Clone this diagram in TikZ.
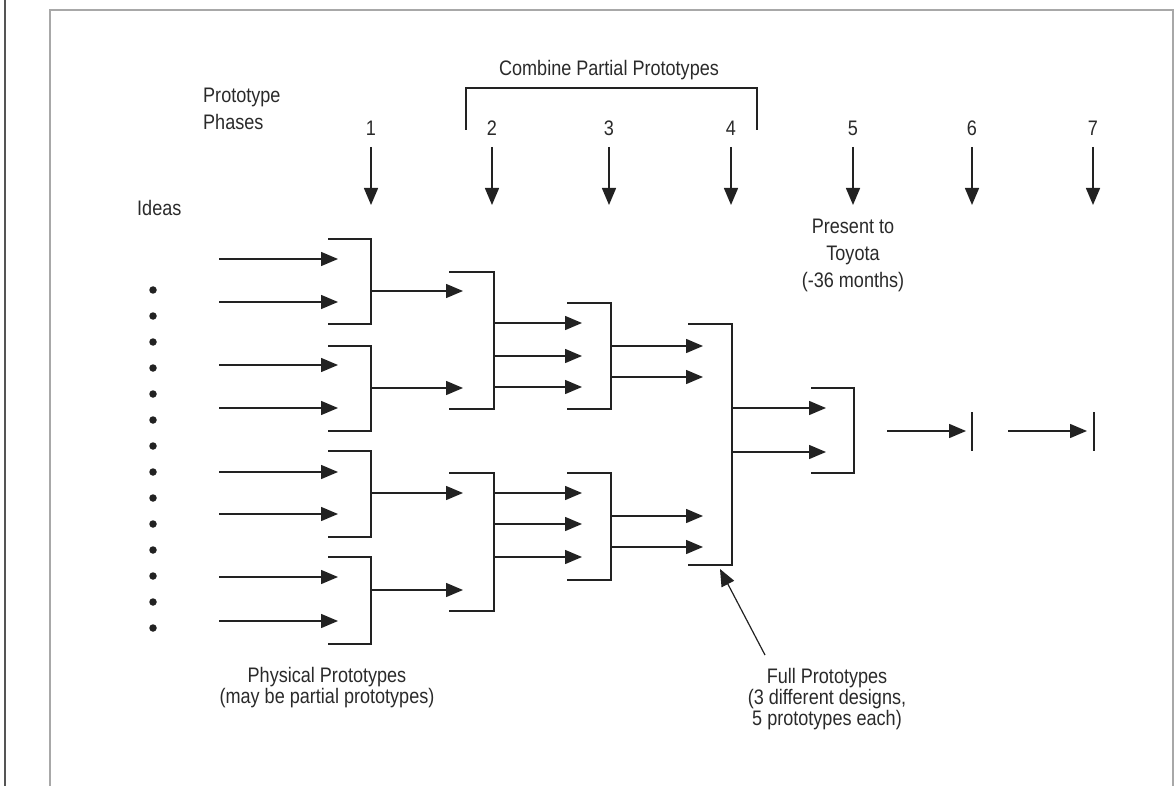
\documentclass[tikz,border=0pt]{standalone}
\usepackage{fontspec}
\setmainfont{Liberation Sans}[FakeStretch=0.86]
\usetikzlibrary{arrows.meta}
\definecolor{lineC}{HTML}{222222}
\definecolor{txtC}{HTML}{2A2A2A}
\definecolor{frameDark}{HTML}{555555}
\definecolor{frameGray}{HTML}{A8A8A8}
\tikzset{
  wire/.style={draw=lineC, line width=1.5pt},
  arr/.style={wire, -{Triangle[length=17pt,width=14pt]}},
  brk/.style={wire, line cap=butt, line join=miter},
  lbl/.style={text=txtC, font=\fontsize{21}{27}\selectfont, inner sep=0pt, align=center},
  lowlbl/.style={lbl, font=\fontsize{21}{21}\selectfont},
  dot/.style={circle, fill=lineC, minimum size=7.5pt, inner sep=0pt},
}
% bracket: name, left x, spine x, top y, bottom y
\newcommand\pbracket[5]{%
  \coordinate (#1-tl) at (#2,#4);
  \coordinate (#1-tr) at (#3,#4);
  \coordinate (#1-br) at (#3,#5);
  \coordinate (#1-bl) at (#2,#5);
  \draw[brk] (#1-tl) -- (#1-tr) -- (#1-br) -- (#1-bl);
}
\begin{document}
\begin{tikzpicture}[x=1pt,y=-1pt]
\useasboundingbox (0,0) rectangle (1175,786);

% page frame
\draw[frameDark, line width=2pt] (5,0) -- (5,786);
\draw[frameGray, line width=2pt] (50,786) -- (50,10) -- (1173,10) -- (1173,786);

% headings
\node[lbl, anchor=west, align=left] (phases) at (203,109) {Prototype\\Phases};
\node[lbl, anchor=west] (ideas) at (137,208) {Ideas};
\node[lbl] (combine) at (609,70) {Combine Partial Prototypes};
\coordinate (cb-a) at (466,130);
\coordinate (cb-b) at (466,88);
\coordinate (cb-c) at (757,88);
\coordinate (cb-d) at (757,130);
\draw[brk] (cb-a) -- (cb-b) -- (cb-c) -- (cb-d);

% phase markers
\foreach \n/\x in {1/371,2/492,3/609,4/731,5/853,6/972,7/1093} {
  \node[lbl] (ph\n) at (\x,128) {\n};
  \coordinate (phs\n) at (\x,147);
  \coordinate (phe\n) at (\x,205);
  \draw[arr] (phs\n) -- (phe\n);
}
\node[lbl] (present) at (853,255) {Present to\\Toyota\\(-36 months)};

% ideas column
\foreach \k in {0,...,13} \node[dot] (dot\k) at (153,290+26*\k) {};

% phase 1: physical prototypes
\pbracket{b1}{328}{371}{239}{324}
\pbracket{b2}{328}{371}{346}{431}
\pbracket{b3}{328}{371}{451}{537}
\pbracket{b4}{328}{371}{557}{644}
\foreach \i/\y in {1/259,2/302,3/365,4/408,5/472,6/514,7/577,8/621} {
  \coordinate (idea\i) at (219,\y);
  \coordinate (pp\i) at (338,\y);
  \draw[arr] (idea\i) -- (pp\i);
}

% phase 2
\pbracket{c1}{449}{494}{272}{409}
\pbracket{c2}{449}{494}{473}{611}
\foreach \i/\y in {1/291,2/388,3/493,4/590} {
  \coordinate (o1s\i) at (371,\y);
  \coordinate (o1e\i) at (463,\y);
  \draw[arr] (o1s\i) -- (o1e\i);
}

% phase 3
\pbracket{d1}{567}{611}{303}{409}
\pbracket{d2}{567}{611}{473}{580}
\foreach \i/\y in {1/323,2/356,3/387,4/493,5/524,6/557} {
  \coordinate (o2s\i) at (494,\y);
  \coordinate (o2e\i) at (582,\y);
  \draw[arr] (o2s\i) -- (o2e\i);
}

% phase 4: full prototypes
\pbracket{e}{688}{732}{324}{565}
\foreach \i/\y in {1/346,2/377,3/516,4/547} {
  \coordinate (o3s\i) at (611,\y);
  \coordinate (o3e\i) at (703,\y);
  \draw[arr] (o3s\i) -- (o3e\i);
}

% phase 5
\pbracket{f}{811}{854}{388}{473}
\foreach \i/\y in {1/408,2/452} {
  \coordinate (o4s\i) at (732,\y);
  \coordinate (o4e\i) at (826,\y);
  \draw[arr] (o4s\i) -- (o4e\i);
}

% phases 6 and 7
\coordinate (g-t) at (972,412);
\coordinate (g-b) at (972,451);
\draw[brk] (g-t) -- (g-b);
\coordinate (h-t) at (1094,412);
\coordinate (h-b) at (1094,451);
\draw[brk] (h-t) -- (h-b);
\coordinate (o5s) at (887,431);
\coordinate (o5e) at (966,431);
\draw[arr] (o5s) -- (o5e);
\coordinate (o6s) at (1008,431);
\coordinate (o6e) at (1087,431);
\draw[arr] (o6s) -- (o6e);

% bottom labels
\node[lowlbl, anchor=north] (phys) at (327,667) {Physical Prototypes\\(may be partial prototypes)};
\node[lowlbl, anchor=north] (full) at (827,668) {Full Prototypes\\(3 different designs,\\5 prototypes each)};
\coordinate (fp-tail) at (765,655);
\coordinate (fp-tip) at (720,569);
\draw[wire, line width=1.2pt, -{Triangle[length=17pt,width=14pt]}] (fp-tail) -- (fp-tip);

\end{tikzpicture}
\end{document}
